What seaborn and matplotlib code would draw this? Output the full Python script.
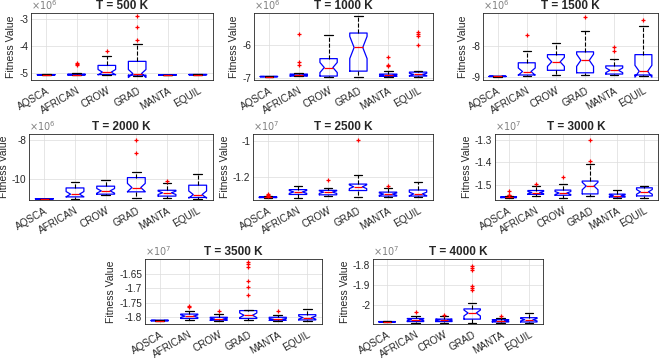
import numpy as np
import pandas as pd
import matplotlib
matplotlib.use("Agg")
import matplotlib.pyplot as plt
import seaborn as sns
from matplotlib.ticker import FuncFormatter

# ---------------- data ----------------
ALGOS = ["AQSCA", "AFRICAN", "CROW", "GRAD", "MANTA", "EQUIL"]
TEMPS = [500, 1000, 1500, 2000, 2500, 3000, 3500, 4000]
EXPONENT = [6, 6, 6, 6, 7, 7, 7, 7]

# (lower whisker, q1, median, q3, upper whisker) per algorithm, in units of 10^EXPONENT
STATS_500 = [(-5.075, -5.07, -5.065, -5.06, -5.055), (-5.08, -5.07, -5.06, -5.045, -5.01),
             (-5.09, -5.06, -4.97, -4.72, -4.38), (-5.12, -5.08, -5.02, -4.57, -3.94),
             (-5.08, -5.075, -5.07, -5.065, -5.06), (-5.07, -5.065, -5.06, -5.055, -5.05)]
FLIERS_500 = [[], [-4.72, -4.68, -4.63], [-4.18], [-3.78, -3.3, -2.88], [], []]

STATS_1000 = [(-6.975, -6.97, -6.965, -6.96, -6.955), (-6.96, -6.95, -6.92, -6.89, -6.85),
              (-6.97, -6.95, -6.69, -6.42, -5.71), (-6.97, -6.80, -6.08, -5.64, -5.11),
              (-6.97, -6.96, -6.93, -6.89, -6.79), (-6.97, -6.95, -6.90, -6.83, -6.80)]
FLIERS_1000 = [[], [-6.62, -6.52, -5.68], [], [], [-6.64, -6.6, -6.38], [-6.01, -5.72, -5.67, -5.62]]

STATS_1500 = [(-8.995, -8.99, -8.985, -8.98, -8.975), (-8.96, -8.94, -8.83, -8.55, -8.16),
              (-8.93, -8.79, -8.52, -8.29, -7.91), (-8.95, -8.87, -8.47, -8.20, -7.55),
              (-8.94, -8.91, -8.79, -8.65, -8.43), (-8.98, -8.94, -8.82, -8.29, -7.38)]
FLIERS_1500 = [[], [-7.66], [], [-7.09], [-8.17, -8.04], [-7.19]]

STATS_2000 = [(-11.03, -11.025, -11.02, -11.015, -11.01), (-11.02, -10.92, -10.78, -10.46, -10.17),
              (-10.83, -10.78, -10.61, -10.37, -10.03), (-11.0, -10.66, -10.44, -9.93, -9.64),
              (-10.98, -10.88, -10.71, -10.58, -10.19), (-11.02, -10.95, -10.80, -10.32, -9.73)]
FLIERS_2000 = [[], [], [], [-8.66, -8.0], [-10.08], []]

STATS_2500 = [(-1.317, -1.3155, -1.314, -1.3115, -1.309), (-1.316, -1.298, -1.284, -1.271, -1.251),
              (-1.307, -1.300, -1.285, -1.275, -1.264), (-1.313, -1.276, -1.255, -1.240, -1.188),
              (-1.313, -1.307, -1.296, -1.285, -1.262), (-1.315, -1.307, -1.295, -1.273, -1.231)]
FLIERS_2500 = [[-1.304, -1.301, -1.295], [], [-1.216], [-0.993], [-1.249], []]

STATS_3000 = [(-1.559, -1.5575, -1.556, -1.5535, -1.551), (-1.552, -1.543, -1.535, -1.526, -1.506),
              (-1.558, -1.547, -1.537, -1.524, -1.497), (-1.552, -1.541, -1.506, -1.484, -1.409),
              (-1.558, -1.555, -1.549, -1.542, -1.523), (-1.558, -1.550, -1.532, -1.514, -1.504)]
FLIERS_3000 = [[-1.547, -1.544, -1.527], [-1.497], [-1.464], [-1.396, -1.30], [], []]

STATS_3500 = [(-1.8125, -1.812, -1.811, -1.810, -1.8095), (-1.809, -1.804, -1.796, -1.789, -1.779),
              (-1.812, -1.810, -1.806, -1.800, -1.788), (-1.810, -1.804, -1.793, -1.777, -1.775),
              (-1.812, -1.810, -1.807, -1.800, -1.791), (-1.812, -1.809, -1.801, -1.791, -1.771)]
FLIERS_3500 = [[], [-1.765, -1.762], [-1.779], [-1.723, -1.695, -1.674, -1.626, -1.617, -1.609],
               [-1.779], []]

STATS_4000 = [(-2.0815, -2.081, -2.080, -2.079, -2.0785), (-2.084, -2.079, -2.070, -2.064, -2.054),
              (-2.084, -2.079, -2.071, -2.067, -2.054), (-2.084, -2.067, -2.037, -2.017, -1.988),
              (-2.084, -2.081, -2.074, -2.070, -2.064), (-2.084, -2.081, -2.070, -2.060, -2.036)]
FLIERS_4000 = [[], [-2.033], [-2.047], [-1.922, -1.913, -1.905, -1.826, -1.814, -1.805], [-2.050], []]

STATS = [STATS_500, STATS_1000, STATS_1500, STATS_2000, STATS_2500, STATS_3000, STATS_3500, STATS_4000]
FLIERS = [FLIERS_500, FLIERS_1000, FLIERS_1500, FLIERS_2000, FLIERS_2500, FLIERS_3000,
          FLIERS_3500, FLIERS_4000]

YLIMS = [(-5.26, -2.78), (-7.07, -5.03), (-9.1, -6.96), (-11.08, -7.69),
         (-1.329, -0.96), (-1.568, -1.2755), (-1.823, -1.600), (-2.091, -1.772)]
YTICKS = [[-5, -4, -3], [-7, -6], [-9, -8], [-10, -8],
          [-1.2, -1], [-1.5, -1.4, -1.3], [-1.8, -1.75, -1.7, -1.65], [-2, -1.9, -1.8]]

# axes boxes in pixels: left, top, right, bottom
BOXES = [(31, 13, 213, 80), (254, 13, 433, 80), (483, 13, 658, 80),
         (29, 134, 213, 200), (253, 134, 433, 200), (495, 134, 658, 200),
         (145, 259, 322, 324), (373, 259, 543, 324)]
W, H = 661, 360


def make_sample(lo, q1, med, q3, hi, fl):
    """Build a run list (~30 values) whose box statistics match the read values."""
    low = sorted(v for v in fl if v < lo)
    high = sorted(v for v in fl if v > hi)
    m = max(7, len(low) + 1, len(high) + 1)
    n = 4 * m + 1
    vals = [q1] * (m + 1) + [med] * m + [q3] * (2 * m)
    for i, v in enumerate(low):
        vals[i] = v
    vals[len(low)] = lo
    vals[n - 1 - len(high)] = hi
    for i, v in enumerate(high):
        vals[n - len(high) + i] = v
    return vals


# ---------------- plotting ----------------
sns.set_theme(style="whitegrid")
plt.rcParams["font.family"] = ["Liberation Sans", "DejaVu Sans"]

fig = plt.figure(figsize=(W / 100, H / 100), dpi=100)
axis_col = "#262626"

for k, temp in enumerate(TEMPS):
    rows = []
    for algo, st, fl in zip(ALGOS, STATS[k], FLIERS[k]):
        for v in make_sample(*st, fl):
            rows.append({"algo": algo, "value": v})
    df = pd.DataFrame(rows)

    l, t, r, b = BOXES[k]
    ax = fig.add_axes([l / W, 1 - b / H, (r - l) / W, (b - t) / H])
    sns.boxplot(data=df, x="algo", y="value", order=ALGOS, ax=ax,
                notch=True, fill=False, color="blue", width=0.58, linewidth=0.9,
                medianprops={"color": "red", "linewidth": 0.9},
                whiskerprops={"color": "black", "linestyle": "--", "linewidth": 0.8},
                capprops={"color": "black", "linewidth": 0.9},
                flierprops={"marker": "+", "markeredgecolor": "red", "markersize": 3.5,
                            "markeredgewidth": 0.9})

    ax.set_ylim(*YLIMS[k])
    ax.set_yticks(YTICKS[k])
    ax.yaxis.set_major_formatter(FuncFormatter(lambda v, p: f"{v:g}"))
    ax.set_xlabel("")
    ax.set_ylabel("Fitness Value", fontsize=7.5, color=axis_col, labelpad=2)
    ax.set_title(f"T = {temp} K", fontsize=8.5, fontweight="bold", pad=3)
    ax.tick_params(axis="both", labelsize=7.2, colors=axis_col, direction="in",
                   length=2, pad=2)
    ax.tick_params(axis="x", pad=4)
    for lab in ax.get_xticklabels():
        lab.set_rotation(30)
        lab.set_ha("right")
        lab.set_rotation_mode("anchor")
    ax.grid(True, color="#dcdcdc", linewidth=0.5)
    ax.set_facecolor("white")
    for sp in ax.spines.values():
        sp.set_visible(True)
        sp.set_color(axis_col)
        sp.set_linewidth(0.6)
    ax.text(0.0, 1.01, r"$\times10^{%d}$" % EXPONENT[k], transform=ax.transAxes,
            fontsize=7, color="#808080", ha="left", va="bottom")

fig.savefig("out.png", dpi=100)
